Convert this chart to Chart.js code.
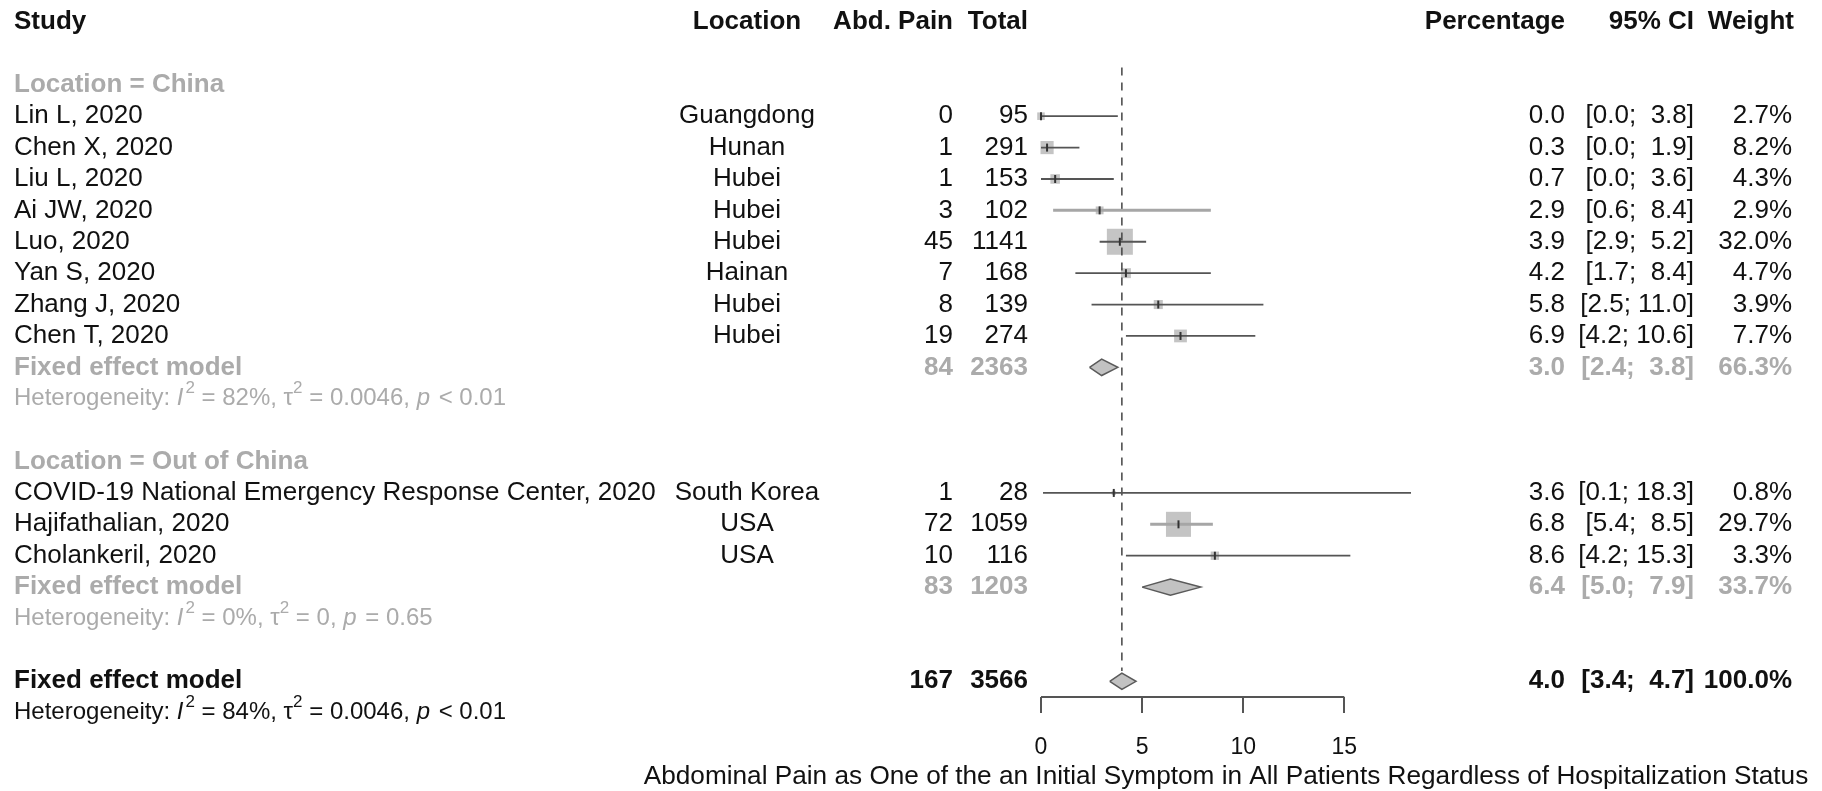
<!DOCTYPE html>
<html>
<head>
<meta charset="utf-8">
<script src="https://cdn.jsdelivr.net/npm/chart.js@4.4.0/dist/chart.umd.min.js"></script>
<style>
html,body{margin:0;padding:0;background:#fff;}
canvas{display:block;}
</style>
</head>
<body>
<canvas id="forest" width="1822" height="791"></canvas>
<script>
// study level data
const studyNames = ['Lin L, 2020','Chen X, 2020','Liu L, 2020','Ai JW, 2020','Luo, 2020','Yan S, 2020',
  'Zhang J, 2020','Chen T, 2020','COVID-19 National Emergency Response Center, 2020','Hajifathalian, 2020','Cholankeril, 2020'];
const studyLocations = ['Guangdong','Hunan','Hubei','Hubei','Hubei','Hainan','Hubei','Hubei','South Korea','USA','USA'];
const abdPain = [0,1,1,3,45,7,8,19,1,72,10];
const totals = [95,291,153,102,1141,168,139,274,28,1059,116];
const percentages = [0.0,0.3,0.7,2.9,3.9,4.2,5.8,6.9,3.6,6.8,8.6];
const ciLower = [0.0,0.0,0.0,0.6,2.9,1.7,2.5,4.2,0.1,5.4,4.2];
const ciUpper = [3.8,1.9,3.6,8.4,5.2,8.4,11.0,10.6,18.3,8.5,15.3];
const weights = [2.7,8.2,4.3,2.9,32.0,4.7,3.9,7.7,0.8,29.7,3.3];
const studyRows = [3,4,5,6,7,8,9,10,15,16,17];

// subgroup / overall pooled results
const groupLabels = ['Location = China','Location = Out of China'];
const groupRows = [2,14];
const pooledEvents = [84,83,167];
const pooledTotals = [2363,1203,3566];
const pooledEst = [3.0,6.4,4.0];
const pooledLower = [2.4,5.0,3.4];
const pooledUpper = [3.8,7.9,4.7];
const pooledWeights = [66.3,33.7,100.0];
const pooledRows = [11,18,21];
const hetI2 = ['82%','0%','84%'];
const hetTau2 = ['0.0046','0','0.0046'];
const hetP = ['< 0.01','= 0.65','< 0.01'];
const hetRows = [12,19,22];

const xTicks = [0,5,10,15];
const axisTitle = 'Abdominal Pain as One of the an Initial Symptom in All Patients Regardless of Hospitalization Status';

const FONT = '"Liberation Sans", Arial, Helvetica, sans-serif';
const BLACK = '#111111', GREY = '#ababab';
Chart.defaults.font.family = FONT;

const ciStr = (lo, hi) => '[' + lo.toFixed(1) + '; ' + hi.toFixed(1).padStart(4, ' ') + ']';

// datasets
const datasets = [];
const lightLines = ['Ai JW, 2020','Hajifathalian, 2020'];
studyNames.forEach((name, i) => {
  const light = lightLines.includes(name);
  datasets.push({
    data: [{x: ciLower[i], y: studyRows[i]}, {x: ciUpper[i], y: studyRows[i]}],
    showLine: true, borderColor: light ? '#a6a6a6' : '#555555', borderWidth: light ? 3 : 1.8,
    pointRadius: 0, clip: false, order: 3
  });
});
// weighted squares (area ~ weight)
datasets.push({
  data: studyNames.map((n, i) => ({x: percentages[i], y: studyRows[i]})),
  pointStyle: 'rect', pointRadius: weights.map(w => 26 * Math.sqrt(w / 32) / Math.SQRT2),
  pointBackgroundColor: '#c4c4c4', pointBorderWidth: 0, clip: false, order: 5
});
// point estimate tick
datasets.push({
  data: studyNames.map((n, i) => ({x: percentages[i], y: studyRows[i]})),
  pointStyle: 'line', pointRotation: 90, pointRadius: 4,
  pointBorderColor: '#333333', pointBorderWidth: 2, clip: false, order: 1
});
// diamonds
const dh = 0.26;
pooledEst.forEach((est, i) => {
  const r = pooledRows[i];
  datasets.push({
    data: [{x: pooledLower[i], y: r}, {x: est, y: r - dh}, {x: pooledUpper[i], y: r}, {x: est, y: r + dh}, {x: pooledLower[i], y: r}],
    showLine: true, fill: 'shape', backgroundColor: '#c2c2c2', borderColor: '#5a5a5a', borderWidth: 1.5,
    pointRadius: 0, tension: 0, clip: false, order: 2
  });
});
// dashed line at overall estimate
datasets.push({
  data: [{x: pooledEst[2], y: 1.45}, {x: pooledEst[2], y: pooledRows[2] - 0.33}],
  showLine: true, borderColor: '#444444', borderWidth: 1.5, borderDash: [8, 7],
  pointRadius: 0, clip: false, order: 4
});

function drawHet(ctx, x, y, i, color) {
  const size = 24;
  const parts = [['Heterogeneity: ', ''], ['I', 'italic'], ['2', 'sup'], [' = ' + hetI2[i] + ', ', ''],
    ['\u03c4', ''], ['2', 'sup'], [' = ' + hetTau2[i] + ', ', ''], ['p', 'italic'], [' ' + hetP[i], '']];
  ctx.textAlign = 'left';
  ctx.fillStyle = color;
  let cx = x;
  for (const [s, st] of parts) {
    const sz = st === 'sup' ? 17 : size;
    ctx.font = (st === 'italic' ? 'italic ' : '') + sz + 'px ' + FONT;
    ctx.fillText(s, cx, st === 'sup' ? y - 10 : y);
    cx += ctx.measureText(s).width + (st === 'italic' ? 2 : 0);
  }
}

const textPlugin = {
  id: 'forestText',
  afterDraw(chart) {
    const ctx = chart.ctx;
    const ys = chart.scales.y, xs = chart.scales.x;
    const col = {study: 14, loc: 747, ev: 953, tot: 1028, pct: 1565, ci: 1694, w: 1794};
    const put = (s, x, row, align, bold, color, size) => {
      ctx.font = (bold ? 'bold ' : '') + (size || 26) + 'px ' + FONT;
      ctx.fillStyle = color;
      ctx.textAlign = align;
      ctx.fillText(s, x, ys.getPixelForValue(row));
    };
    ctx.save();
    ctx.textBaseline = 'middle';
    // header
    put('Study', col.study, 0, 'left', true, BLACK);
    put('Location', col.loc, 0, 'center', true, BLACK);
    put('Abd. Pain', col.ev, 0, 'right', true, BLACK);
    put('Total', col.tot, 0, 'right', true, BLACK);
    put('Percentage', col.pct, 0, 'right', true, BLACK);
    put('95% CI', col.ci, 0, 'right', true, BLACK);
    put('Weight', col.w, 0, 'right', true, BLACK);
    groupLabels.forEach((g, i) => put(g, col.study, groupRows[i], 'left', true, GREY));
    studyNames.forEach((n, i) => {
      const r = studyRows[i];
      put(n, col.study, r, 'left', false, BLACK);
      put(studyLocations[i], col.loc, r, 'center', false, BLACK);
      put(String(abdPain[i]), col.ev, r, 'right', false, BLACK);
      put(String(totals[i]), col.tot, r, 'right', false, BLACK);
      put(percentages[i].toFixed(1), col.pct, r, 'right', false, BLACK);
      put(ciStr(ciLower[i], ciUpper[i]), col.ci, r, 'right', false, BLACK);
      put(weights[i].toFixed(1) + '%', col.w - 2, r, 'right', false, BLACK);
    });
    pooledRows.forEach((r, i) => {
      const c = i < 2 ? GREY : BLACK;
      put('Fixed effect model', col.study, r, 'left', true, c);
      put(String(pooledEvents[i]), col.ev, r, 'right', true, c);
      put(String(pooledTotals[i]), col.tot, r, 'right', true, c);
      put(pooledEst[i].toFixed(1), col.pct, r, 'right', true, c);
      put(ciStr(pooledLower[i], pooledUpper[i]), col.ci, r, 'right', true, c);
      put(pooledWeights[i].toFixed(1) + '%', col.w - 2, r, 'right', true, c);
      drawHet(ctx, col.study, ys.getPixelForValue(hetRows[i]), i, i < 2 ? GREY : BLACK);
    });
    // axis line from first to last tick
    const yb = chart.chartArea.bottom;
    ctx.strokeStyle = '#555555';
    ctx.lineWidth = 2;
    ctx.beginPath();
    ctx.moveTo(xs.getPixelForValue(xTicks[0]), yb);
    ctx.lineTo(xs.getPixelForValue(xTicks[xTicks.length - 1]), yb);
    ctx.stroke();
    // axis title
    ctx.font = '26.2px ' + FONT;
    ctx.fillStyle = BLACK;
    ctx.textAlign = 'center';
    ctx.fillText(axisTitle, (xs.left + xs.right) / 2, 777);
    ctx.restore();
  }
};

new Chart(document.getElementById('forest'), {
  type: 'scatter',
  data: {datasets},
  plugins: [textPlugin],
  options: {
    responsive: false,
    animation: false,
    layout: {padding: {left: 1041, right: 411, top: 22, bottom: 0}},
    plugins: {legend: {display: false}, tooltip: {enabled: false}},
    scales: {
      x: {
        type: 'linear', min: 0, max: 18.3,
        afterFit: s => { s.height = 94; },
        border: {display: false},
        grid: {drawOnChartArea: false, drawTicks: true, tickLength: 16, color: '#555555', lineWidth: 2},
        ticks: {stepSize: 5, includeBounds: false, padding: 21, color: BLACK, font: {size: 23}, maxRotation: 0, autoSkip: false}
      },
      y: {type: 'linear', min: 0, max: 21.5, reverse: true, display: false}
    }
  }
});
</script>
</body>
</html>
